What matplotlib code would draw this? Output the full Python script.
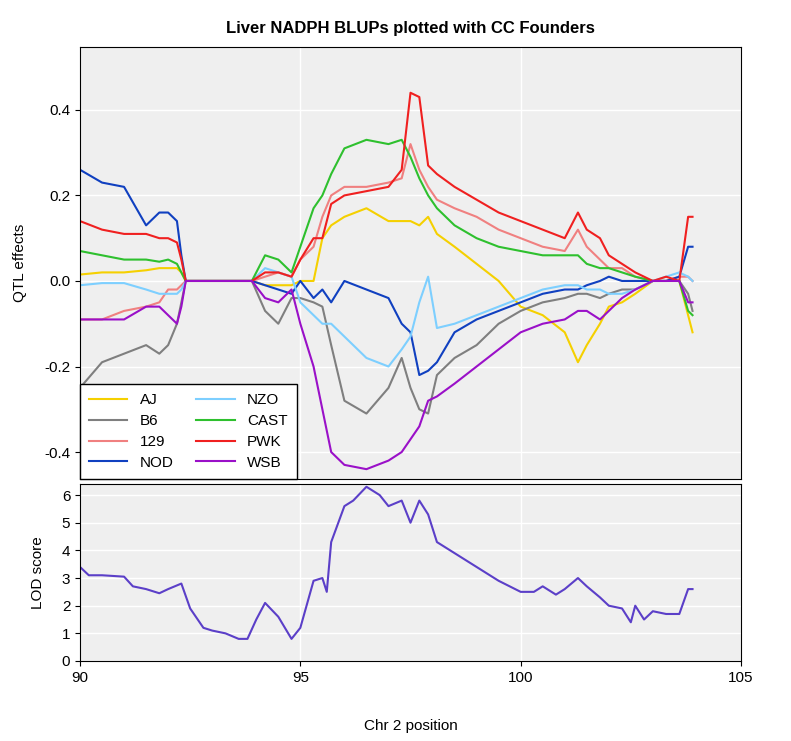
import matplotlib
matplotlib.use('Agg')
import matplotlib.pyplot as plt

plt.rcParams['font.family'] = ['Liberation Sans', 'DejaVu Sans']

pos = [90, 90.5, 91, 91.5, 91.8, 92, 92.2, 92.3, 92.4, 93.9, 94.2, 94.5, 94.8, 95.0,
       95.3, 95.5, 95.7, 96.0, 96.5, 97.0, 97.3, 97.5, 97.7, 97.9, 98.1, 98.5, 99,
       99.5, 100, 100.5, 101, 101.3, 101.5, 101.8, 102, 102.3, 102.6, 103, 103.3,
       103.6, 103.8, 103.9]

AJ = [0.015, 0.02, 0.02, 0.025, 0.03, 0.03, 0.03, 0.02, 0, 0, -0.01, -0.01, -0.01, 0.0,
      0.0, 0.1, 0.13, 0.15, 0.17, 0.14, 0.14, 0.14, 0.13, 0.15, 0.11, 0.08, 0.04,
      0.0, -0.06, -0.08, -0.12, -0.19, -0.15, -0.1, -0.06, -0.05, -0.03, 0, 0, 0,
      -0.08, -0.12]
B6 = [-0.25, -0.19, -0.17, -0.15, -0.17, -0.15, -0.1, -0.05, 0, 0, -0.07, -0.1, -0.04,
      -0.04, -0.05, -0.06, -0.15, -0.28, -0.31, -0.25, -0.18, -0.25, -0.3, -0.31,
      -0.22, -0.18, -0.15, -0.1, -0.07, -0.05, -0.04, -0.03, -0.03, -0.04, -0.03,
      -0.02, -0.02, 0, 0, 0, -0.03, -0.07]
S129 = [-0.09, -0.09, -0.07, -0.06, -0.05, -0.02, -0.02, -0.01, 0, 0, 0.01, 0.02, 0.01,
        0.05, 0.08, 0.15, 0.2, 0.22, 0.22, 0.23, 0.24, 0.32, 0.26, 0.22, 0.19, 0.17,
        0.15, 0.12, 0.1, 0.08, 0.07, 0.12, 0.08, 0.05, 0.03, 0.03, 0.01, 0, 0, 0.01,
        0.01, 0.0]
NOD = [0.26, 0.23, 0.22, 0.13, 0.16, 0.16, 0.14, 0.06, 0, 0, -0.01, -0.02, -0.03, 0.0,
       -0.04, -0.02, -0.05, 0.0, -0.02, -0.04, -0.1, -0.12, -0.22, -0.21, -0.19,
       -0.12, -0.09, -0.07, -0.05, -0.03, -0.02, -0.02, -0.01, 0.0, 0.01, 0.0, 0.0,
       0, 0, 0.01, 0.08, 0.08]
NZO = [-0.01, -0.005, -0.005, -0.02, -0.03, -0.03, -0.03, -0.02, 0, 0, 0.03, 0.02, 0.01,
       -0.05, -0.08, -0.1, -0.1, -0.13, -0.18, -0.2, -0.16, -0.13, -0.05, 0.01, -0.11,
       -0.1, -0.08, -0.06, -0.04, -0.02, -0.01, -0.01, -0.02, -0.02, -0.03, -0.03,
       -0.02, 0, 0.01, 0.02, 0.01, 0.0]
CAST = [0.07, 0.06, 0.05, 0.05, 0.045, 0.05, 0.04, 0.02, 0, 0, 0.06, 0.05, 0.02, 0.08,
        0.17, 0.2, 0.25, 0.31, 0.33, 0.32, 0.33, 0.29, 0.24, 0.2, 0.17, 0.13, 0.1,
        0.08, 0.07, 0.06, 0.06, 0.06, 0.04, 0.03, 0.03, 0.02, 0.01, 0, 0, 0, -0.07,
        -0.08]
PWK = [0.14, 0.12, 0.11, 0.11, 0.1, 0.1, 0.09, 0.05, 0, 0, 0.02, 0.02, 0.01, 0.05, 0.1,
       0.1, 0.18, 0.2, 0.21, 0.22, 0.26, 0.44, 0.43, 0.27, 0.25, 0.22, 0.19, 0.16,
       0.14, 0.12, 0.1, 0.16, 0.12, 0.1, 0.06, 0.04, 0.02, 0, 0.01, 0, 0.15, 0.15]
WSB = [-0.09, -0.09, -0.09, -0.06, -0.06, -0.08, -0.1, -0.06, 0, 0, -0.04, -0.05, -0.02,
       -0.1, -0.2, -0.3, -0.4, -0.43, -0.44, -0.42, -0.4, -0.37, -0.34, -0.28, -0.27,
       -0.24, -0.2, -0.16, -0.12, -0.1, -0.09, -0.07, -0.07, -0.09, -0.07, -0.04,
       -0.02, 0, 0, 0, -0.05, -0.05]

lod_pos = [90, 90.2, 90.5, 91, 91.2, 91.5, 91.8, 92, 92.3, 92.5, 92.8, 93, 93.3, 93.6,
           93.8, 94.0, 94.2, 94.5, 94.8, 95.0, 95.3, 95.5, 95.6, 95.7, 96, 96.2, 96.5,
           96.8, 97, 97.3, 97.5, 97.7, 97.9, 98.1, 98.5, 99, 99.5, 100, 100.3, 100.5,
           100.8, 101, 101.3, 101.5, 101.8, 102, 102.3, 102.5, 102.6, 102.8, 103,
           103.3, 103.6, 103.8, 103.9]
lod = [3.4, 3.1, 3.1, 3.05, 2.7, 2.6, 2.45, 2.6, 2.8, 1.9, 1.2, 1.1, 1.0, 0.8, 0.8, 1.5,
       2.1, 1.6, 0.8, 1.2, 2.9, 3.0, 2.5, 4.3, 5.6, 5.8, 6.3, 6.0, 5.6, 5.8, 5.0, 5.8,
       5.3, 4.3, 3.9, 3.4, 2.9, 2.5, 2.5, 2.7, 2.4, 2.6, 3.0, 2.7, 2.3, 2.0, 1.9, 1.4,
       2.0, 1.5, 1.8, 1.7, 1.7, 2.6, 2.6]

names = ['AJ', 'B6', '129', 'NOD', 'NZO', 'CAST', 'PWK', 'WSB']
series = [AJ, B6, S129, NOD, NZO, CAST, PWK, WSB]
colors = ['#f5d000', '#7f7f7f', '#f08080', '#1040c0', '#7dcfff', '#2ec02e', '#f02020', '#9a10c8']

fig = plt.figure(figsize=(7.91, 7.41), dpi=100)
ax1 = fig.add_axes([80/791, 1-479/741, 661/791, 432/741])
ax2 = fig.add_axes([80/791, 1-661/741, 661/791, 177/741])

for ax in (ax1, ax2):
    ax.set_facecolor('#efefef')
    ax.grid(True, color='white', lw=1)
    ax.set_axisbelow(True)
    for s in ax.spines.values():
        s.set_color('black')
    ax.set_xlim(90, 105)
    ax.set_xticks([90, 95, 100, 105])
    ax.tick_params(labelsize=11)

for n, y, c in zip(names, series, colors):
    ax1.plot(pos, y, color=c, lw=1.5, label=n)
ax1.set_ylim(-0.463, 0.547)
ax1.set_yticks([-0.4, -0.2, 0.0, 0.2, 0.4])
ax1.set_yticklabels(['-0.4', '-0.2', '0.0', '0.2', '0.4'])
ax1.set_xticklabels([])
ax1.tick_params(axis='x', length=0)
ax1.set_ylabel('QTL effects', fontsize=11, labelpad=12)
leg = ax1.legend(ncol=2, loc='lower left', fontsize=11, fancybox=False,
                 borderaxespad=0, columnspacing=1.5, handlelength=2.5,
                 labelspacing=0.45, borderpad=0.6, framealpha=1)
leg.get_frame().set_edgecolor('black')
ax1.set_title('Liver NADPH BLUPs plotted with CC Founders', fontsize=12,
              fontweight='bold', pad=10)

ax2.plot(lod_pos, lod, color='#5b3fc8', lw=1.5)
ax2.set_ylim(0, 6.4)
ax2.set_yticks(range(7))
ax2.set_ylabel('LOD score', fontsize=11, labelpad=12)
ax2.set_xlabel('Chr 2 position', fontsize=11, labelpad=25)

fig.savefig('out.png', dpi=100)
